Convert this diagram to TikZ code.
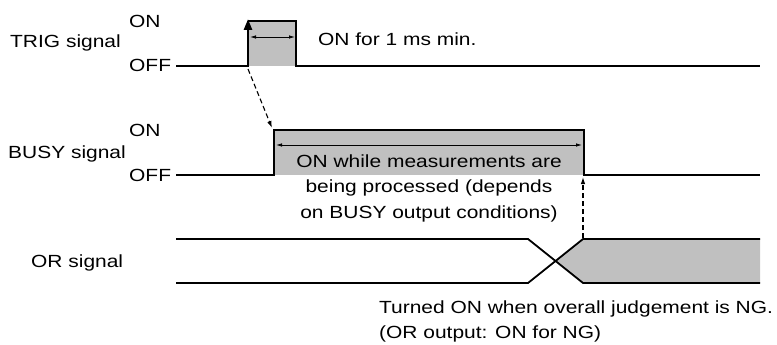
\documentclass[tikz,border=0pt]{standalone}
\usepackage{fontspec}
\newfontfamily\sigfont[FakeStretch=1.19]{Liberation Sans}
\usetikzlibrary{arrows.meta}
\definecolor{pulsegray}{RGB}{192,192,192}

\begin{document}
\begin{tikzpicture}[x=1pt, y=-1pt,
    every node/.style={font=\sigfont\fontsize{17.6}{25.5}\selectfont, inner sep=0pt},
    sig/.style={line width=1.8pt},
    span/.style={line width=0.8pt, {Latex[length=6pt,width=3.5pt]}-{Latex[length=6pt,width=3.5pt]}},
    cause/.style={line width=1.1pt, dash pattern=on 5pt off 3pt, -{Latex[length=7pt,width=4.5pt]}}]
        \useasboundingbox (0,0) rectangle (777,345);

        % Draw the TRIG pulse
        \fill[pulsegray] (248,21) rectangle (296,66);
        \draw[sig] (176,66) -- (248,66);
        \draw[sig] (248,21) -- (296,21) -- (296,66) -- (760,66);
        \draw[line width=2.6pt, -{Triangle[length=11pt,width=8pt]}] (248,67) -- (248,19);
        \draw[span] (250,37) -- (295,37);

        % Draw the BUSY pulse
        \fill[pulsegray] (274,130) rectangle (584,175);
        \draw[sig] (176,175) -- (274,175) -- (274,130) -- (584,130) -- (584,175) -- (760,175);
        \draw[span] (276,145) -- (582,145);

        % Draw the OR signal
        \fill[pulsegray] (555.5,261) -- (583,239) -- (760,239) -- (760,283) -- (583,283) -- cycle;
        \draw[sig] (176,239) -- (528,239) -- (583,283) -- (760,283);
        \draw[sig] (176,283) -- (528,283) -- (583,239) -- (760,239);

        % Draw the labels
        \node[anchor=base west] (trig) at (10,48) {TRIG signal};
        \node[anchor=base west] (trigon) at (129,28) {ON};
        \node[anchor=base west] (trigoff) at (129,72) {OFF};
        \node[anchor=base west] (busy) at (8,158) {BUSY signal};
        \node[anchor=base west] (busyon) at (129,136) {ON};
        \node[anchor=base west] (busyoff) at (129,181) {OFF};
        \node[anchor=base west] (orsig) at (31,267) {OR signal};
        \node[anchor=base west] (minon) at (318,46) {ON for 1 ms min.};
        \node[anchor=north, align=center] (busytxt) at (429,154.2) {ON while measurements are\\being processed (depends\\on BUSY output conditions)};
        \node[anchor=north west, align=left] (ngtxt) at (379,300.2) {Turned ON when overall judgement is NG.\\(OR output: ON for NG)};

        % Draw the arrows
        \coordinate (trigup) at (248,69);
        \coordinate (busyup) at (272,128);
        \coordinate (busydown) at (583,177);
        \coordinate (orup) at (583,238);
        \draw[cause] (trigup) -- (busyup);
        \draw[cause] (orup) -- (busydown);
    \end{tikzpicture}
\end{document}
